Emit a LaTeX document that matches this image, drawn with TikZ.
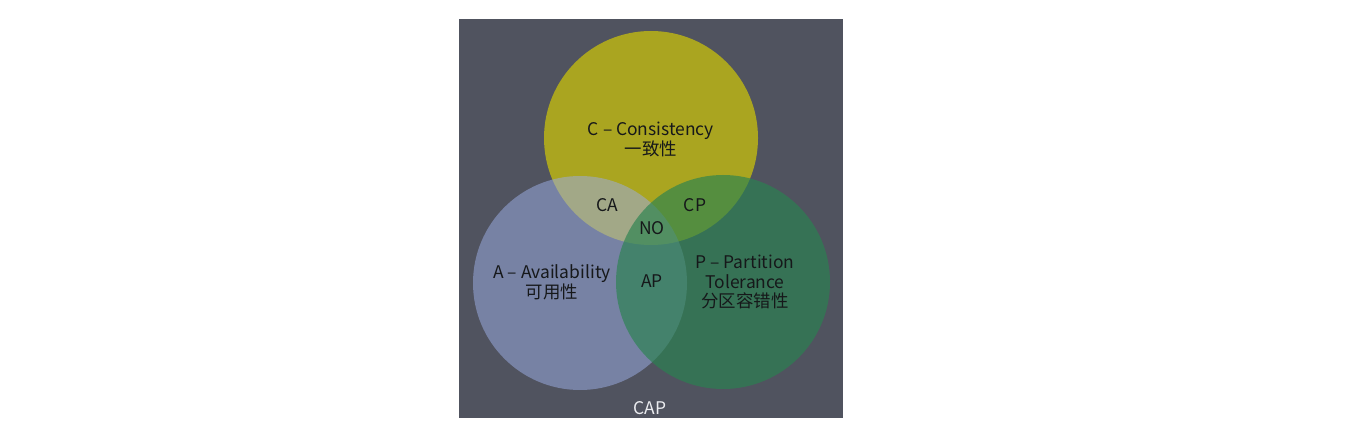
\documentclass[tikz,border=0pt]{standalone}
\usepackage{fontspec}
\setmainfont{Noto Sans CJK SC}
\definecolor{capgray}{RGB}{80,83,95}
\definecolor{capyellow}{RGB}{170,165,32}
\definecolor{capblue}{RGB}{155,172,227}
\definecolor{capgreen}{RGB}{42,131,80}
\definecolor{capink}{RGB}{22,24,26}
\definecolor{capwhite}{RGB}{235,236,240}
\begin{document}
\begin{tikzpicture}[x=1bp, y=-1bp,
  lbl/.style={text=capink, font=\fontsize{17.5}{20}\selectfont, align=center, inner sep=0pt}]
\newcommand{\crad}{107bp}
\useasboundingbox (0,0) rectangle (1350,436);
% background panel
\fill[capgray] (459,19) rectangle (843,418);
% the three sets
\fill[capyellow] (651,138) circle[radius=\crad];
\fill[capblue, fill opacity=0.53] (580,283) circle[radius=\crad];
\fill[capgreen, fill opacity=0.66] (723,282) circle[radius=\crad];
% labels
\node[lbl] (cons) at (651,139) {C – Consistency\\一致性};
\node[lbl] (avail) at (552,282) {A – Availability\\可用性};
\node[lbl] (part) at (745,282) {P – Partition\\Tolerance\\分区容错性};
\node[lbl] (ca) at (607,205) {CA};
\node[lbl] (cp) at (695,205) {CP};
\node[lbl] (no) at (652,228) {NO};
\node[lbl] (ap) at (652,281) {AP};
\node[lbl, text=capwhite] (cap) at (650,408) {CAP};
\end{tikzpicture}
\end{document}
